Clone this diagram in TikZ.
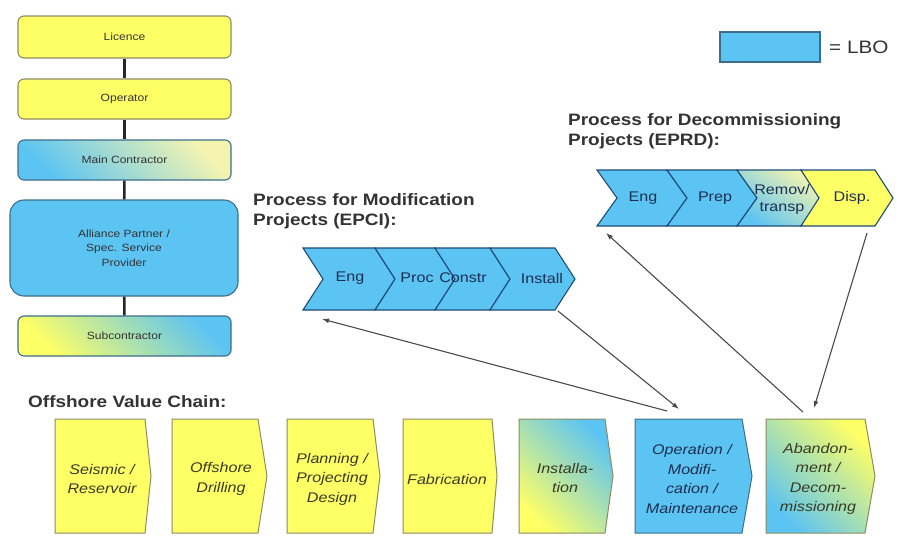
\documentclass[tikz,border=0pt]{standalone}
\usepackage{fontspec}
\setmainfont{Liberation Sans}[FakeStretch=1.15]
\usetikzlibrary{arrows.meta}

\definecolor{lboblue}{HTML}{5CC4F2}
\definecolor{lyellow}{HTML}{FFFF66}
\definecolor{paleyel}{HTML}{F4F4B0}
\definecolor{edgeyel}{HTML}{8C8C64}
\definecolor{edgeblue}{HTML}{3C6E8C}
\definecolor{chevedge}{HTML}{1E4C78}
\definecolor{txtdark}{HTML}{333333}
\definecolor{txtolive}{HTML}{3A3A22}
\definecolor{txtnavy}{HTML}{1C2E52}
\definecolor{linkgray}{HTML}{4A4A4A}

% chevron: [style]{x left}{x right}{top}{bottom}{point depth}
\newcommand\chevshape[6][]{%
  \path[#1] (#2,#4) -- (#3,#4) -- ({#3+#6},{(#4+#5)/2}) -- (#3,#5)
    -- (#2,#5) -- ({#2+#6},{(#4+#5)/2}) -- cycle;}
% value-chain step: [style]{x left}{x right}{x tip}
\newcommand\chainshape[4][]{%
  \path[#1] (#2,419) -- (#3,419) -- (#4,476) -- (#3,533) -- (#2,533) -- cycle;}

\tikzset{
  orgbox/.style={draw=edgeyel, line width=1.1pt, rounded corners=6pt,
    minimum width=213pt, minimum height=40pt, inner sep=0pt, align=center,
    font=\fontsize{10.5}{14.5}\selectfont, text=txtdark},
  orglink/.style={line width=2.6pt, draw=black!85},
  title/.style={font=\bfseries\fontsize{16.5}{20}\selectfont, text=black!80,
    align=left, anchor=north west, inner sep=0pt},
  chevfill/.style={draw=chevedge, line width=1.1pt, fill=lboblue},
  chevlabel/.style={font=\fontsize{14}{17}\selectfont, text=txtnavy,
    inner sep=0pt, align=center},
  chainedge/.style={draw=edgeyel, line width=1pt},
  chainlabel/.style={font=\itshape\fontsize{14}{19.5}\selectfont, text=txtolive,
    inner sep=0pt, align=center},
  link/.style={draw=linkgray, line width=1.1pt, -{Latex[length=7pt,width=5pt]}},
}

\begin{document}
\begin{tikzpicture}[x=1pt,y=-1pt]
\useasboundingbox (0,0) rectangle (899,536);
\fill[white] (0,0) rectangle (899,536);

% ---- organisation column ----
\node[orgbox, fill=lyellow, minimum height=42pt] (licence) at (124.5,37) {Licence};
\node[orgbox, fill=lyellow] (operator) at (124.5,99) {Operator};
\node[orgbox, draw=edgeblue, top color=paleyel, bottom color=lboblue, shading angle=-45]
  (maincon) at (124.5,160) {Main Contractor};
\node[orgbox, draw=edgeblue, fill=lboblue, minimum width=228pt, minimum height=96pt,
  rounded corners=14pt] (alliance) at (124,248) {Alliance Partner /\\Spec. Service\\Provider};
\node[orgbox, draw=edgeblue, top color=lboblue, bottom color=lyellow, shading angle=-45]
  (subcon) at (124.5,336) {Subcontractor};
\draw[orglink] (licence) -- (operator);
\draw[orglink] (operator) -- (maincon);
\draw[orglink] (maincon) -- (alliance);
\draw[orglink] (alliance) -- (subcon);

% ---- legend ----
\node[draw=edgeblue, line width=1.1pt, fill=lboblue, minimum width=100pt,
  minimum height=30pt, inner sep=0pt] (legbox) at (770,47) {};
\node[anchor=west, inner sep=0pt, font=\fontsize{18}{20}\selectfont, text=txtdark]
  (lbo) at (829,47) {= LBO};

% ---- modification projects (EPCI) ----
\node[title] (epcititle) at (253,193) {Process for Modification\\Projects (EPCI):};
\chevshape[chevfill]{303}{375}{248}{310}{20}
\chevshape[chevfill]{375}{435}{248}{310}{20}
\chevshape[chevfill]{435}{490}{248}{310}{20}
\chevshape[chevfill]{490}{555}{248}{310}{20}
\node[chevlabel] (eeng) at (350,278) {Eng};
\node[chevlabel] (eproc) at (417,278) {Proc};
\node[chevlabel] (econ) at (463,278) {Constr};
\node[chevlabel] (einst) at (542,278) {Install};
\coordinate (epciIn) at (322,319);
\coordinate (epciOut) at (558,311);

% ---- decommissioning projects (EPRD) ----
\node[title] (eprdtitle) at (568,113) {Process for Decommissioning\\Projects (EPRD):};
\chevshape[chevfill]{597}{667}{170}{226}{20}
\chevshape[chevfill]{667}{737}{170}{226}{20}
\chevshape[draw=chevedge, line width=1.1pt, top color=paleyel, bottom color=lboblue,
  shading angle=-35]{737}{801}{170}{226}{20}
\node[chevlabel] (deng) at (643,198) {Eng};
\node[chevlabel] (dprep) at (715,198) {Prep};
\node[chevlabel] (drem) at (782,199) {Remov/\\transp};
\chevshape[draw=chevedge, line width=1.1pt, fill=lyellow]{801}{875}{170}{226}{18}
\node[chevlabel] (ddisp) at (852,198) {Disp.};
\coordinate (eprdIn) at (606,233);
\coordinate (eprdOut) at (867,233);

% ---- offshore value chain ----
\node[title] (chaintitle) at (28,395) {Offshore Value Chain:};
\chainshape[chainedge, fill=lyellow]{55}{145}{151}
\chainshape[chainedge, fill=lyellow]{172}{258}{267}
\chainshape[chainedge, fill=lyellow]{287}{373}{380}
\chainshape[chainedge, fill=lyellow]{403}{492}{497}
\chainshape[chainedge, top color=lboblue, bottom color=lyellow, shading angle=-45]{519}{605}{613}
\chainshape[chainedge, draw=edgeblue, fill=lboblue]{635}{742}{752}
\chainshape[chainedge, top color=lyellow, bottom color=lboblue, shading angle=-45]{766}{865}{875}
\node[chainlabel] (seismic) at (102,479) {Seismic /\\Reservoir};
\node[chainlabel] (drilling) at (221,479) {Offshore\\Drilling};
\node[chainlabel] (planning) at (332,479) {Planning /\\Projecting\\Design};
\node[chainlabel] (fabric) at (447,479) {Fabrication};
\node[chainlabel] (install) at (565,478) {Installa-\\tion};
\node[chainlabel, text=txtnavy] (operation) at (692,479) {Operation /\\Modifi-\\cation /\\Maintenance};
\node[chainlabel] (abandon) at (818,479) {Abandon-\\ment /\\Decom-\\missioning};
\coordinate (opOut) at (667,411);
\coordinate (opIn) at (679,409);
\coordinate (abOut) at (803,412);
\coordinate (abIn) at (814,408);

% ---- links between value chain and project processes ----
\draw[link] (opOut) -- (epciIn);
\draw[link] (epciOut) -- (opIn);
\draw[link] (abOut) -- (eprdIn);
\draw[link] (eprdOut) -- (abIn);
\end{tikzpicture}
\end{document}
